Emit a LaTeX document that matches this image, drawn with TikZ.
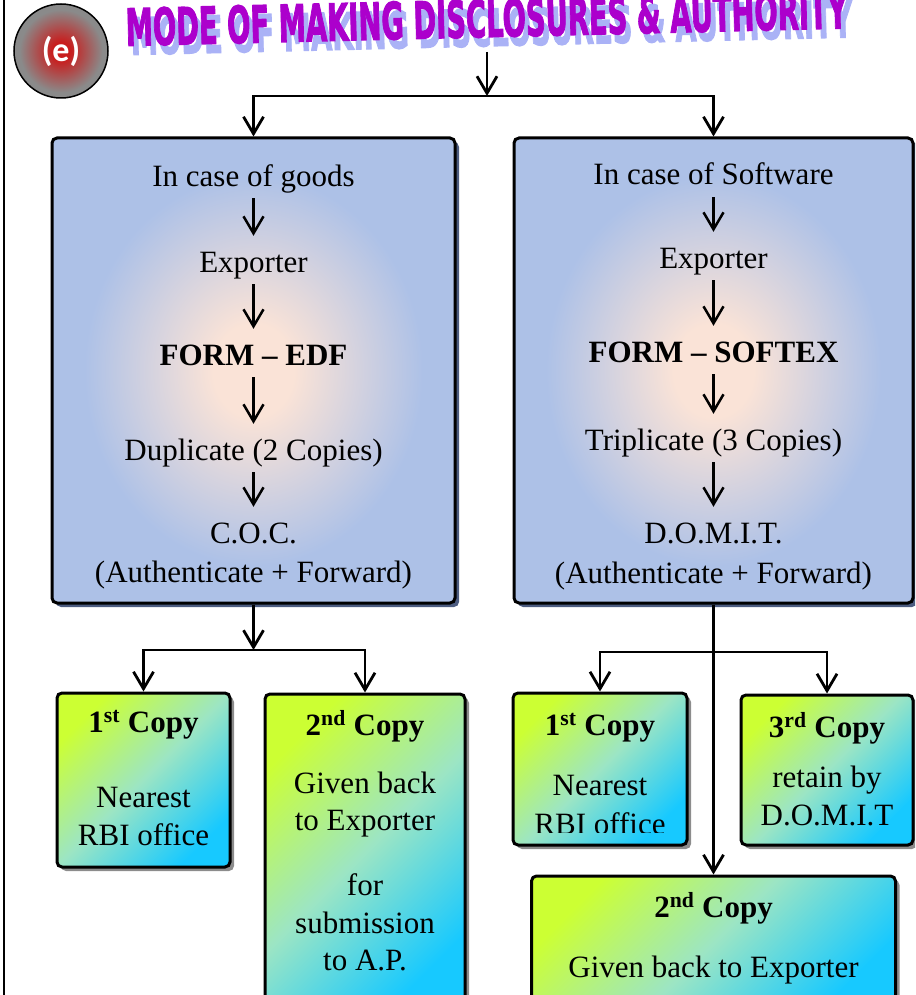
\documentclass[tikz,border=0pt]{standalone}
\usepackage{fontspec}
\setmainfont{Liberation Serif}
\newfontfamily\titlefont[BoldFeatures={FakeBold=2.5}]{DejaVu Sans}
\newfontfamily\badgefont{Carlito}
\usetikzlibrary{arrows.meta,shadows}

\definecolor{boxblue}{HTML}{ADC1E7}
\definecolor{boxpeach}{HTML}{FAE3D7}
\definecolor{boxshadow}{HTML}{4C5C80}
\definecolor{limetop}{HTML}{CCFF33}
\definecolor{mintmid}{HTML}{9CE5C4}
\definecolor{cyanbot}{HTML}{17C9FF}
\definecolor{titlepurple}{HTML}{AC00CC}
\definecolor{titleshade}{HTML}{AAB2F6}
\definecolor{badgered}{HTML}{C81E1E}
\definecolor{badgegray}{HTML}{8A8A8A}

\pgfdeclareradialshading{boxglow}{\pgfpoint{0bp}{0bp}}{color(0bp)=(boxpeach); color(5bp)=(boxpeach); color(21bp)=(boxblue); color(50bp)=(boxblue)}
\pgfdeclareradialshading{badgeglow}{\pgfpoint{0bp}{0bp}}{color(0bp)=(badgered); color(5bp)=(badgered); color(22bp)=(badgegray); color(50bp)=(badgegray)}

\newcommand\headingtext{\resizebox{722pt}{38pt}{\titlefont\bfseries MODE OF MAKING DISCLOSURES \& AUTHORITY}}

\tikzset{
  panel/.style={draw=black, line width=3pt, rounded corners=5pt, shading=boxglow,
    inner sep=0pt, drop shadow={shadow xshift=4pt, shadow yshift=-4pt, fill=boxshadow, opacity=1}},
  copybox/.style={draw=black, line width=3pt, rounded corners=5pt,
    top color=limetop, bottom color=cyanbot, middle color=mintmid, shading angle=45,
    inner sep=0pt, drop shadow={shadow xshift=4pt, shadow yshift=-4pt, fill=black!45, opacity=1}},
  txt/.style={inner sep=0pt, anchor=base, text height=21pt, text depth=6pt,
    font=\fontsize{31}{36}\selectfont},
  btxt/.style={txt, font=\fontsize{31}{36}\selectfont\bfseries},
  arr/.style={draw=black, line width=2.8pt, -{Straight Barb[length=17pt,width=20pt]}},
  flow/.style={arr, line width=2.5pt, shorten <=6pt, shorten >=15pt},
}

\begin{document}
\begin{tikzpicture}[x=1pt, y=-1pt]
\useasboundingbox (0,0) rectangle (915,995);
\clip (0,0) rectangle (915,995);

% left rule of the page
\draw[line width=2.5pt] (4,0) -- (4,995);

% badge
\node[circle, draw=black, line width=1.5pt, shading=badgeglow, minimum size=94pt,
  inner sep=0pt, text=white, font=\badgefont\bfseries\fontsize{34}{36}\selectfont]
  (badge) at (61,51) {(e)};

% heading with its lavender shadow
\node[anchor=base, rotate=1.4, inner sep=0pt, text=titleshade] (headshadow) at (492,46) {\headingtext};
\node[anchor=base, rotate=1.4, inner sep=0pt, text=titlepurple] (heading) at (487,37) {\headingtext};

% main panels
\node[panel, minimum width=403pt, minimum height=465pt] (boxL) at (253.5,370.5) {};
\node[panel, minimum width=399pt, minimum height=465pt] (boxR) at (713.5,370.5) {};

% goods column
\node[txt]  (gA) at (253.5,186) {In case of goods};
\node[txt]  (gB) at (253.5,272) {Exporter};
\node[btxt] (gC) at (253.5,365) {FORM – EDF};
\node[txt]  (gD) at (253.5,460) {Duplicate (2 Copies)};
\node[txt]  (gE) at (253.5,543) {C.O.C.};
\node[txt]  (gF) at (253.5,582) {(Authenticate + Forward)};
\draw[flow] (gA.south) -- (gB.north);
\draw[flow] (gB.south) -- (gC.north);
\draw[flow] (gC.south) -- (gD.north);
\draw[flow] (gD.south) -- (gE.north);

% software column
\node[txt]  (sA) at (713.5,185) {In case of Software};
\node[txt]  (sB) at (713.5,268) {Exporter};
\node[btxt] (sC) at (713.5,362) {FORM – SOFTEX};
\node[txt]  (sD) at (713.5,450) {Triplicate (3 Copies)};
\node[txt]  (sE) at (713.5,543) {D.O.M.I.T.};
\node[txt]  (sF) at (713.5,583) {(Authenticate + Forward)};
\draw[flow] (sA.south) -- (sB.north);
\draw[flow] (sB.south) -- (sC.north);
\draw[flow] (sC.south) -- (sD.north);
\draw[flow] (sD.south) -- (sE.north);

% copy boxes, goods side
\node[copybox, minimum width=173pt, minimum height=174pt] (c1L) at (143.5,780) {};
\node[copybox, minimum width=200pt, minimum height=316pt] (c2L) at (365,852) {};
\node[btxt] (c1Lh) at (143.5,732) {1\textsuperscript{st} Copy};
\node[txt]  (c1La) at (143.5,807) {Nearest};
\node[txt]  (c1Lb) at (143.5,845) {RBI office};
\node[btxt] (c2Lh) at (365,735) {2\textsuperscript{nd} Copy};
\node[txt]  (c2La) at (365,793) {Given back};
\node[txt]  (c2Lb) at (365,830) {to Exporter};
\node[txt]  (c2Lc) at (365,895) {for};
\node[txt]  (c2Ld) at (365,933) {submission};
\node[txt]  (c2Le) at (365,970) {to A.P.};

% copy boxes, software side
\node[copybox, minimum width=174pt, minimum height=152pt] (c1R) at (600,769) {};
\node[copybox, minimum width=172pt, minimum height=150pt] (c3R) at (827,770) {};
\node[copybox, minimum width=364pt, minimum height=134pt] (c2R) at (713.5,943) {};
\node[btxt] (c1Rh) at (600,735) {1\textsuperscript{st} Copy};
\node[txt]  (c1Ra) at (600,795) {Nearest};
\begin{scope}
  \clip (513,700) rectangle (687,832);
  \node[txt] (c1Rb) at (600,834) {RBI office};
\end{scope}
\node[btxt] (c3Rh) at (827,737) {3\textsuperscript{rd} Copy};
\node[txt]  (c3Ra) at (827,787) {retain by};
\node[txt]  (c3Rb) at (827,825) {D.O.M.I.T};
\node[btxt] (c2Rh) at (713.5,917) {2\textsuperscript{nd} Copy};
\node[txt]  (c2Ra) at (713.5,977) {Given back to Exporter};

% connectors
\coordinate (headfoot) at (487,52);
\coordinate (fork) at (487,96);
\coordinate (forkL) at (253.5,650);
\coordinate (forkR) at (713.5,652);
\draw[arr] (headfoot) -- (fork);
\draw[arr] (fork) -| (boxL.north);
\draw[arr] (fork) -| (boxR.north);
\draw[arr] (boxL.south) -- (forkL);
\draw[arr] (forkL) -| (c1L.north);
\draw[arr] (forkL) -| (c2L.north);
\draw[arr] (boxR.south) -- (c2R.north);
\draw[arr] (forkR) -| (c1R.north);
\draw[arr] (forkR) -| (c3R.north);
\end{tikzpicture}
\end{document}
